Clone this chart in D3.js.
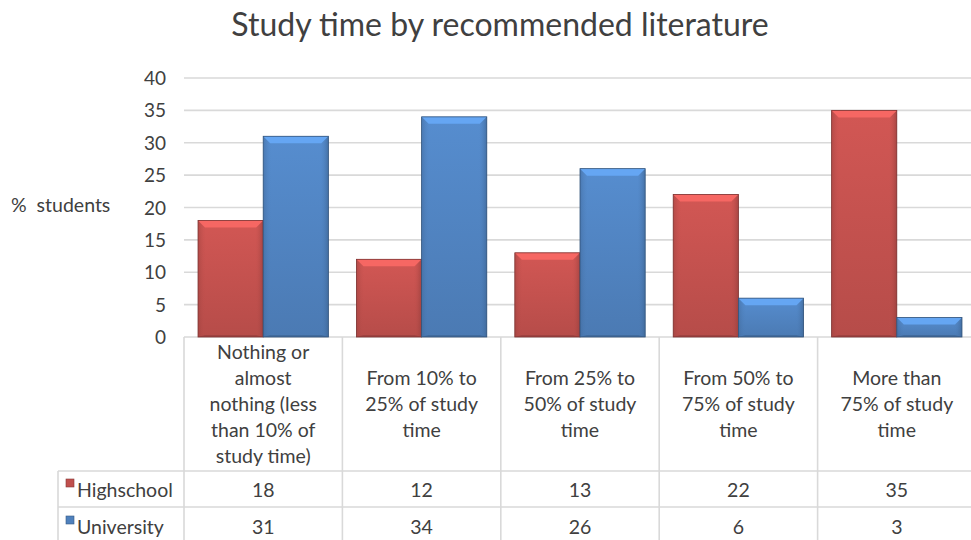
<!doctype html>
<html lang="en">
<head>
<meta charset="utf-8">
<script src="https://d3js.org/d3.v7.min.js"></script>
<style>
  body { margin: 0; background: #fff; }
  svg { display: block; font-family: Lato, "Open Sans", sans-serif; }
</style>
</head>
<body>
<div id="viz"></div>
<script>
// chart data
const categories = [
  ["Nothing or", "almost", "nothing (less", "than 10% of", "study time)"],
  ["From 10% to", "25% of study", "time"],
  ["From 25% to", "50% of study", "time"],
  ["From 50% to", "75% of study", "time"],
  ["More than", "75% of study", "time"]
];
const seriesNames = ["Highschool", "University"];
const highschool = [18, 12, 13, 22, 35];
const university = [31, 34, 26, 6, 3];
const yTicks = [0, 5, 10, 15, 20, 25, 30, 35, 40];

const width = 971, height = 540;
const plotLeft = 184, plotTop = 78, plotBottom = 337, colW = 158.4;
const plotRight = plotLeft + colW * 5;
const textColor = "#404040";

const svg = d3.select("#viz").append("svg")
  .attr("width", width).attr("height", height);

const x = d3.scaleBand().domain(d3.range(5)).range([plotLeft, plotRight]).paddingInner(0).paddingOuter(0);
const xs = d3.scaleBand().domain(seriesNames).range([0, colW]).paddingInner(0).paddingOuter(0.215);
const y = d3.scaleLinear().domain([0, 40]).range([plotBottom, plotTop]);

const colors = { Highschool: "#c0504d", University: "#4f81bd" };

// gradients for the bevelled look
const defs = svg.append("defs");
seriesNames.forEach(s => {
  const c = d3.color(colors[s]);
  const g = defs.append("linearGradient").attr("id", "g-" + s)
    .attr("x1", 0).attr("y1", 0).attr("x2", 0).attr("y2", 1);
  g.append("stop").attr("offset", 0).attr("stop-color", c.brighter(0.25));
  g.append("stop").attr("offset", 1).attr("stop-color", c.darker(0.15));
  const h = defs.append("linearGradient").attr("id", "h-" + s)
    .attr("x1", 0).attr("y1", 0).attr("x2", 1).attr("y2", 0);
  h.append("stop").attr("offset", 0).attr("stop-color", c.darker(0.6)).attr("stop-opacity", 0.55);
  h.append("stop").attr("offset", 0.12).attr("stop-color", c).attr("stop-opacity", 0);
  h.append("stop").attr("offset", 0.88).attr("stop-color", c).attr("stop-opacity", 0);
  h.append("stop").attr("offset", 1).attr("stop-color", c.darker(0.8)).attr("stop-opacity", 0.65);
});

// title
svg.append("text").attr("x", 500).attr("y", 36)
  .attr("text-anchor", "middle").attr("font-size", 32).attr("fill", textColor)
  .text("Study time by recommended literature");

// gridlines
svg.append("g").selectAll("line").data(yTicks).join("line")
  .attr("x1", plotLeft).attr("x2", width)
  .attr("y1", d => y(d)).attr("y2", d => y(d))
  .attr("stroke", "#d9d9d9").attr("stroke-width", 1.6);

// y axis labels
svg.append("g").selectAll("text").data(yTicks).join("text")
  .attr("x", 166).attr("y", d => y(d) + 7)
  .attr("text-anchor", "end").attr("font-size", 19).attr("fill", textColor)
  .text(d => d);

svg.append("text").attr("x", 11).attr("y", 212).attr("xml:space", "preserve")
  .attr("font-size", 19.5).attr("fill", textColor).text("%  students");

// bars
const bars = [];
d3.range(5).forEach(i => {
  bars.push({ i, s: "Highschool", v: highschool[i] });
  bars.push({ i, s: "University", v: university[i] });
});

const bg = svg.append("g").selectAll("g").data(bars).join("g");
bg.each(function(d) {
  const g = d3.select(this);
  const x0 = x(d.i) + xs(d.s), w = xs.bandwidth();
  const y0 = y(d.v), h = y(0) - y(d.v);
  const c = d3.color(colors[d.s]);
  g.append("rect").attr("x", x0).attr("y", y0).attr("width", w).attr("height", h)
    .attr("fill", `url(#g-${d.s})`);
  g.append("rect").attr("x", x0).attr("y", y0).attr("width", w).attr("height", h)
    .attr("fill", `url(#h-${d.s})`);
  const b = Math.min(7, h / 2);
  g.append("path")
    .attr("d", `M${x0},${y0}L${x0 + w},${y0}L${x0 + w - b},${y0 + b}L${x0 + b},${y0 + b}Z`)
    .attr("fill", c.brighter(0.7));
  g.append("path")
    .attr("d", `M${x0},${y0 + h}L${x0 + w},${y0 + h}L${x0 + w - b},${y0 + h - 2}L${x0 + b},${y0 + h - 2}Z`)
    .attr("fill", c.darker(0.8)).attr("opacity", 0.6);
  g.append("rect").attr("x", x0).attr("y", y0).attr("width", w).attr("height", h)
    .attr("fill", "none").attr("stroke", c.darker(1.2)).attr("stroke-width", 0.8);
});

// data table
const rowTop = plotBottom, row1 = 471, row2 = 507, row3 = 543;
const lineColor = "#d9d9d9";
const tg = svg.append("g").attr("stroke", lineColor).attr("stroke-width", 1.6);
d3.range(6).forEach(k => {
  const xx = k < 5 ? x(k) : plotRight;
  tg.append("line").attr("x1", xx).attr("x2", xx).attr("y1", rowTop).attr("y2", row3);
});
tg.append("line").attr("x1", 58).attr("x2", 58).attr("y1", row1).attr("y2", row3);
[row1, row2].forEach(r => tg.append("line").attr("x1", 58).attr("x2", width).attr("y1", r).attr("y2", r));

// category labels, vertically centred in the header cell
const lineH = 26;
svg.append("g").selectAll("text").data(categories).join("text")
  .attr("text-anchor", "middle").attr("font-size", 19.5).attr("fill", textColor)
  .each(function(lines, i) {
    const t = d3.select(this);
    const cx = x(i) + x.bandwidth() / 2;
    const start = 359 + (5 - lines.length) * lineH / 2;
    lines.forEach((ln, k) => {
      t.append("tspan").attr("x", cx).attr("y", start + k * lineH).text(ln);
    });
  });

// table rows
const rows = [highschool, university];
rows.forEach((vals, r) => {
  const cy = (r === 0 ? row1 + 26 : row2 + 27);
  const s = seriesNames[r];
  svg.append("rect").attr("x", 66).attr("y", cy - 18).attr("width", 8).attr("height", 8)
    .attr("fill", colors[s]).attr("stroke", d3.color(colors[s]).darker(1)).attr("stroke-width", 0.6);
  svg.append("text").attr("x", 77).attr("y", cy).attr("font-size", 19.5).attr("fill", textColor).text(s);
  svg.append("g").selectAll("text").data(vals).join("text")
    .attr("x", (d, i) => x(i) + x.bandwidth() / 2).attr("y", cy)
    .attr("text-anchor", "middle").attr("font-size", 19.5).attr("fill", textColor)
    .text(d => d);
});
</script>
</body>
</html>
